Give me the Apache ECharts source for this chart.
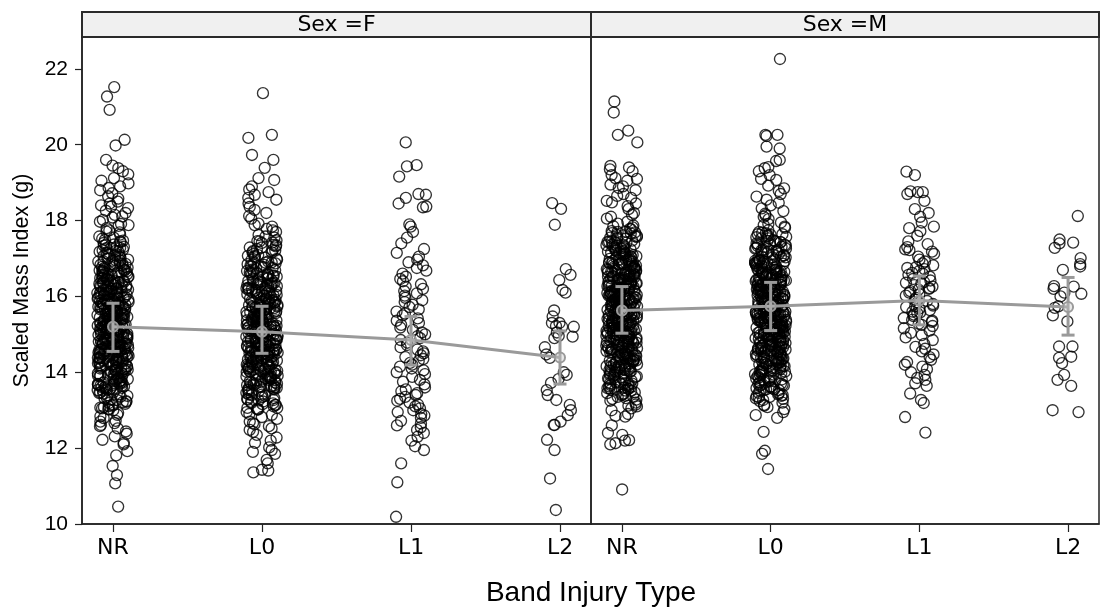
<!DOCTYPE html>
<html>
<head>
<meta charset="utf-8">
<script src="https://cdn.jsdelivr.net/npm/echarts@6/dist/echarts.min.js"></script>
<style>
  html, body { margin: 0; padding: 0; background: #fff; }
  #chart { width: 1100px; height: 607px; }
</style>
</head>
<body>
<div id="chart"></div>
<script>
// categories and tick labels
const categories = ['NR', 'L0', 'L1', 'L2'];
const yTicks = [10, 12, 14, 16, 18, 20, 22];
const panels = ['Sex =F', 'Sex =M'];

// scaled mass index per group (tails + spread)
const femaleNR = [
  10.46, 11.07, 11.29, 11.53, 11.81, 11.92,
  12.14, 12.1, 12.22, 12.31, 12.44, 12.38,
  12.52, 12.61, 12.58, 12.72, 12.84, 12.79, 12.93, 12.88, 12.66, 12.7,
  13.02, 13.11, 13.15, 13.22, 13.19, 13.31, 13.27, 13.42, 13.38, 13.05, 13.24, 13.36, 13.08, 13.45, 13.48, 13.0,
  13.52, 13.61, 13.64, 13.7, 13.73, 13.82, 13.79, 13.91, 13.94, 13.58, 13.67, 13.85, 13.97, 13.55, 13.63, 13.76, 13.88, 13.99, 13.6, 13.81, 13.72, 13.93,
  14.03, 14.08, 14.12, 14.15, 14.2, 14.24, 14.28, 14.33, 14.36, 14.41, 14.45, 14.48, 14.01, 14.06, 14.1, 14.18, 14.22, 14.27, 14.31, 14.38, 14.43, 14.47, 14.14, 14.26, 14.35, 14.4,
  14.5, 14.53, 14.56, 14.6, 14.62, 14.66, 14.69, 14.72, 14.75, 14.78, 14.82, 14.85, 14.88, 14.91, 14.95, 14.98, 14.52, 14.58, 14.64, 14.7, 14.77, 14.83, 14.9, 14.96, 14.55, 14.68, 14.8, 14.93, 14.61, 14.74,
  15.01, 15.04, 15.07, 15.1, 15.13, 15.16, 15.2, 15.23, 15.26, 15.3, 15.33, 15.36, 15.4, 15.43, 15.46, 15.49, 15.03, 15.09, 15.15, 15.21, 15.28, 15.34, 15.41, 15.47, 15.06, 15.18, 15.32, 15.44, 15.12, 15.25,
  15.51, 15.54, 15.58, 15.61, 15.64, 15.68, 15.71, 15.75, 15.78, 15.82, 15.85, 15.88, 15.92, 15.95, 15.98, 15.53, 15.6, 15.66, 15.73, 15.8, 15.87, 15.93, 15.56, 15.7, 15.84, 15.97, 15.63, 15.77,
  16.02, 16.05, 16.09, 16.13, 16.16, 16.2, 16.24, 16.27, 16.31, 16.35, 16.38, 16.42, 16.46, 16.49, 16.04, 16.11, 16.18, 16.26, 16.33, 16.4, 16.47, 16.07, 16.22, 16.37,
  16.52, 16.56, 16.6, 16.64, 16.68, 16.72, 16.76, 16.8, 16.84, 16.88, 16.92, 16.96, 16.99, 16.54, 16.62, 16.7, 16.78, 16.86, 16.94, 16.66,
  17.02, 17.06, 17.1, 17.15, 17.19, 17.23, 17.28, 17.32, 17.36, 17.41, 17.45, 17.49, 17.08, 17.2, 17.34, 17.27,
  17.52, 17.58, 17.63, 17.69, 17.74, 17.8, 17.86, 17.91, 17.97, 17.55, 17.71, 17.88,
  18.02, 18.08, 18.15, 18.2, 18.26, 18.33, 18.4, 18.45, 18.11, 18.37,
  18.5, 18.58, 18.64, 18.72, 18.8, 18.86, 18.9, 18.98,
  19.05, 19.12, 19.22, 19.3, 19.38, 19.45,
  19.6, 19.98, 20.13, 20.92, 21.27, 21.52
];
// the near-solid core of the same column
const femaleNRCore = [
  13.03, 13.47, 13.21, 13.12, 13.39, 13.29, 13.44, 13.07, 13.33, 13.17,
  13.54, 13.96, 13.68, 13.77, 13.59, 13.84, 13.62, 13.91, 13.71, 13.53, 13.87, 13.66, 13.78, 13.95, 13.57, 13.83, 13.69, 13.74, 13.9, 13.65,
  14.02, 14.44, 14.17, 14.29, 14.09, 14.37, 14.21, 14.48, 14.13, 14.32, 14.05, 14.25, 14.41, 14.19, 14.34, 14.07, 14.46, 14.23, 14.11, 14.39, 14.28, 14.16, 14.43, 14.04, 14.31,
  14.51, 14.97, 14.63, 14.79, 14.57, 14.88, 14.71, 14.54, 14.93, 14.67, 14.81, 14.59, 14.86, 14.73, 14.99, 14.62, 14.76, 14.53, 14.89, 14.69, 14.84, 14.57, 14.94, 14.66, 14.78, 14.61, 14.91, 14.72, 14.87, 14.64,
  15.02, 15.47, 15.14, 15.31, 15.08, 15.39, 15.22, 15.44, 15.11, 15.27, 15.05, 15.36, 15.19, 15.48, 15.13, 15.29, 15.04, 15.42, 15.24, 15.17, 15.33, 15.09, 15.45, 15.21, 15.38, 15.15, 15.26, 15.01, 15.41, 15.34,
  15.53, 15.94, 15.66, 15.81, 15.57, 15.88, 15.72, 15.51, 15.97, 15.63, 15.79, 15.55, 15.86, 15.69, 15.92, 15.61, 15.76, 15.52, 15.84, 15.67, 15.99, 15.58, 15.73, 15.89, 15.64, 15.82, 15.54, 15.77, 15.91, 15.68,
  16.03, 16.46, 16.18, 16.33, 16.08, 16.39, 16.22, 16.01, 16.44, 16.14, 16.29, 16.06, 16.36, 16.19, 16.48, 16.11, 16.27, 16.04, 16.41, 16.24, 16.13, 16.35, 16.09, 16.31, 16.17,
  16.53, 16.94, 16.68, 16.81, 16.57, 16.88, 16.72, 16.51, 16.97, 16.63, 16.79, 16.55, 16.86, 16.69, 16.92, 16.61, 16.76, 16.59, 16.84, 16.66,
  17.04, 17.43, 17.18, 17.31, 17.09, 17.37, 17.22, 17.47, 17.13, 17.27
];
const femaleL0 = [
  11.36, 11.41, 11.43, 11.6, 11.69, 11.85, 11.9, 11.95,
  12.02, 12.14, 12.2, 12.28, 12.35, 12.43, 12.48,
  12.52, 12.58, 12.63, 12.7, 12.77, 12.82, 12.88, 12.95, 12.66, 12.9,
  13.02, 13.06, 13.1, 13.14, 13.18, 13.22, 13.26, 13.3, 13.34, 13.38, 13.42, 13.46, 13.04, 13.16, 13.28, 13.4,
  13.51, 13.54, 13.57, 13.6, 13.63, 13.66, 13.7, 13.73, 13.76, 13.79, 13.82, 13.85, 13.88, 13.91, 13.94, 13.97, 13.53, 13.62, 13.71, 13.8, 13.89, 13.98,
  14.01, 14.04, 14.07, 14.1, 14.13, 14.16, 14.19, 14.22, 14.25, 14.28, 14.31, 14.34, 14.37, 14.4, 14.43, 14.46, 14.49, 14.03, 14.09, 14.15, 14.21, 14.27, 14.33, 14.39, 14.45, 14.12,
  14.51, 14.54, 14.57, 14.59, 14.63, 14.65, 14.68, 14.71, 14.74, 14.76, 14.79, 14.81, 14.84, 14.87, 14.89, 14.92, 14.94, 14.97, 14.99, 14.53, 14.6, 14.67, 14.73, 14.8, 14.86, 14.93, 14.56, 14.7,
  15.02, 15.05, 15.08, 15.11, 15.14, 15.17, 15.19, 15.22, 15.25, 15.27, 15.31, 15.34, 15.37, 15.39, 15.42, 15.45, 15.48, 15.03, 15.1, 15.16, 15.23, 15.29, 15.35, 15.41, 15.47, 15.06, 15.2, 15.33,
  15.52, 15.55, 15.59, 15.62, 15.65, 15.69, 15.72, 15.76, 15.79, 15.83, 15.86, 15.9, 15.94, 15.97, 15.54, 15.61, 15.67, 15.74, 15.81, 15.88, 15.95, 15.58, 15.71, 15.85,
  16.03, 16.07, 16.11, 16.15, 16.19, 16.23, 16.28, 16.32, 16.36, 16.41, 16.45, 16.49, 16.05, 16.13, 16.21, 16.3, 16.39, 16.47, 16.17, 16.34,
  16.53, 16.58, 16.63, 16.69, 16.74, 16.79, 16.85, 16.9, 16.96, 16.55, 16.66, 16.77, 16.88, 16.99, 16.61, 16.82,
  17.03, 17.09, 17.16, 17.22, 17.29, 17.35, 17.42, 17.48, 17.06, 17.19, 17.32, 17.45, 17.25,
  17.55, 17.62, 17.7, 17.78, 17.84, 17.92, 17.58, 17.74, 17.88,
  18.05, 18.12, 18.2, 18.28, 18.36, 18.45,
  18.55, 18.6, 18.68, 18.75, 18.82, 18.9,
  19.07, 19.12, 19.39,
  19.6, 19.73, 20.18, 20.26, 21.36
];
const femaleL0Core = [
  13.06, 13.41, 13.19, 13.27, 13.02, 13.36, 13.14, 13.48, 13.23, 13.32,
  13.58, 13.92, 13.64, 13.81, 13.52, 13.87, 13.7, 13.97, 13.61, 13.75, 13.55, 13.89, 13.67, 13.83, 13.59, 13.94, 13.72, 13.8, 13.63, 13.86,
  14.06, 14.42, 14.14, 14.31, 14.01, 14.38, 14.22, 14.47, 14.11, 14.27, 14.04, 14.35, 14.18, 14.45, 14.09, 14.29, 14.02, 14.4, 14.24, 14.15, 14.33, 14.07, 14.44, 14.2, 14.36,
  14.56, 14.92, 14.61, 14.78, 14.52, 14.86, 14.7, 14.98, 14.59, 14.81, 14.54, 14.89, 14.66, 14.75, 14.95, 14.58, 14.83, 14.63, 14.91, 14.69, 14.51, 14.87, 14.73, 14.6, 14.94, 14.67, 14.8, 14.55,
  15.04, 15.43, 15.16, 15.32, 15.01, 15.38, 15.21, 15.47, 15.09, 15.28, 15.06, 15.35, 15.18, 15.44, 15.12, 15.26, 15.03, 15.4, 15.23, 15.14, 15.31, 15.07, 15.46, 15.19, 15.37, 15.11, 15.29, 15.49,
  15.56, 15.93, 15.64, 15.78, 15.51, 15.86, 15.69, 15.98, 15.59, 15.74, 15.53, 15.89, 15.66, 15.82, 15.57, 15.95, 15.71, 15.62, 15.84, 15.54, 15.91, 15.68, 15.77, 15.6, 15.87,
  16.06, 16.42, 16.16, 16.31, 16.02, 16.37, 16.21, 16.47, 16.11, 16.27, 16.04, 16.34, 16.19, 16.44, 16.09, 16.25, 16.01, 16.39, 16.14, 16.29,
  16.56, 16.92, 16.64, 16.79, 16.52, 16.87, 16.71, 16.97, 16.61, 16.75, 16.54, 16.89, 16.67, 16.83, 16.59,
  17.07, 17.41, 17.16, 17.29, 17.02, 17.36, 17.21, 17.46, 17.12
];
const femaleL1 = [
  10.19, 11.1, 11.6, 11.95, 12.05, 12.2, 12.3, 12.4, 12.48, 12.55, 12.6, 12.65, 12.72, 12.8, 12.86, 12.9, 12.95,
  13.0, 13.05, 13.1, 13.15, 13.2, 13.25, 13.3, 13.35, 13.4, 13.45, 13.5, 13.55, 13.6, 13.68, 13.75, 13.8, 13.88, 13.95,
  14.0, 14.05, 14.1, 14.15, 14.2, 14.25, 14.3, 14.35, 14.4, 14.45, 14.5, 14.55, 14.6, 14.66, 14.72, 14.78, 14.85, 14.9, 14.95,
  15.0, 15.05, 15.12, 15.18, 15.25, 15.3, 15.36, 15.42, 15.5, 15.55, 15.6, 15.66, 15.72, 15.78, 15.85, 15.9, 15.96,
  16.02, 16.08, 16.14, 16.2, 16.26, 16.32, 16.4, 16.46, 16.52, 16.6, 16.68, 16.75, 16.82, 16.9, 16.97,
  17.05, 17.15, 17.25, 17.4, 17.55, 17.7, 17.84, 17.9, 18.35, 18.37, 18.45, 18.6, 18.68, 18.7,
  19.16, 19.43, 19.46, 20.06
];
const femaleL2 = [
  10.37, 11.2, 11.95, 12.22, 12.61, 12.61, 12.7, 12.87, 13.0, 13.14, 13.27, 13.4, 13.53, 13.72, 13.82, 13.93, 14.0,
  14.38, 14.47, 14.66, 14.9, 14.94, 14.96, 15.05, 15.2, 15.2, 15.22, 15.3, 15.3, 15.47, 15.63,
  16.1, 16.17, 16.43, 16.57, 16.72, 17.89, 18.31, 18.46
];
const maleNR = [
  10.91,
  12.1, 12.13, 12.2, 12.21, 12.35, 12.4, 12.6, 12.83, 12.85, 12.9,
  13.0, 13.05, 13.1, 13.15, 13.2, 13.25, 13.3, 13.35, 13.4, 13.45, 13.12, 13.28,
  13.51, 13.54, 13.58, 13.61, 13.64, 13.68, 13.71, 13.74, 13.78, 13.81, 13.84, 13.88, 13.91, 13.94, 13.97, 13.56, 13.7, 13.86,
  14.01, 14.03, 14.06, 14.09, 14.12, 14.14, 14.17, 14.2, 14.23, 14.26, 14.29, 14.31, 14.34, 14.37, 14.4, 14.43, 14.46, 14.48, 14.05, 14.15, 14.25, 14.35, 14.44, 14.19,
  14.5, 14.52, 14.55, 14.58, 14.6, 14.63, 14.65, 14.68, 14.71, 14.73, 14.76, 14.78, 14.81, 14.83, 14.86, 14.89, 14.91, 14.94, 14.96, 14.99, 14.54, 14.62, 14.7, 14.79, 14.87, 14.95, 14.66, 14.84,
  15.01, 15.03, 15.06, 15.08, 15.11, 15.13, 15.16, 15.18, 15.21, 15.23, 15.26, 15.28, 15.31, 15.33, 15.36, 15.38, 15.41, 15.43, 15.46, 15.48, 15.02, 15.09, 15.15, 15.22, 15.29, 15.35, 15.42, 15.49, 15.05, 15.19, 15.32, 15.45,
  15.51, 15.53, 15.56, 15.58, 15.61, 15.63, 15.66, 15.68, 15.71, 15.73, 15.76, 15.78, 15.81, 15.83, 15.86, 15.88, 15.91, 15.93, 15.96, 15.98, 15.52, 15.59, 15.65, 15.72, 15.79, 15.85, 15.92, 15.99, 15.55, 15.69, 15.82, 15.95,
  16.01, 16.04, 16.06, 16.09, 16.11, 16.14, 16.17, 16.19, 16.22, 16.24, 16.27, 16.3, 16.32, 16.35, 16.38, 16.4, 16.43, 16.46, 16.48, 16.02, 16.08, 16.15, 16.21, 16.28, 16.34, 16.41, 16.47, 16.12, 16.25, 16.37,
  16.51, 16.54, 16.57, 16.6, 16.63, 16.66, 16.69, 16.72, 16.75, 16.78, 16.81, 16.84, 16.87, 16.9, 16.93, 16.96, 16.99, 16.53, 16.61, 16.7, 16.79, 16.88, 16.97, 16.65, 16.74, 16.85,
  17.02, 17.06, 17.1, 17.14, 17.18, 17.22, 17.26, 17.3, 17.34, 17.38, 17.42, 17.46, 17.04, 17.12, 17.2, 17.28, 17.36, 17.44, 17.16, 17.32,
  17.52, 17.57, 17.62, 17.67, 17.72, 17.77, 17.82, 17.87, 17.92, 17.97, 17.55, 17.7, 17.85, 17.6,
  18.05, 18.1, 18.2, 18.3, 18.38, 18.45, 18.15, 18.48,
  18.52, 18.6, 18.7, 18.8, 18.86, 18.9, 18.95, 18.65,
  19.05, 19.1, 19.12, 19.2, 19.3, 19.35, 19.4, 19.44,
  20.06, 20.26, 20.37, 20.85, 21.14
];
const maleNRCore = [
  13.32, 13.47, 13.38, 13.44, 13.35, 13.41,
  13.56, 13.93, 13.63, 13.78, 13.52, 13.86, 13.69, 13.97, 13.6, 13.74, 13.54, 13.89, 13.66, 13.82, 13.58, 13.71,
  14.07, 14.43, 14.16, 14.32, 14.02, 14.38, 14.21, 14.47, 14.12, 14.28, 14.05, 14.35, 14.18, 14.45, 14.09, 14.26, 14.03, 14.41, 14.23, 14.14, 14.31, 14.49,
  14.54, 14.93, 14.62, 14.79, 14.51, 14.87, 14.71, 14.97, 14.58, 14.82, 14.56, 14.89, 14.67, 14.76, 14.95, 14.59, 14.84, 14.64, 14.91, 14.69, 14.52, 14.86, 14.73, 14.61, 14.99, 14.77,
  15.03, 15.44, 15.17, 15.33, 15.02, 15.38, 15.22, 15.48, 15.08, 15.27, 15.06, 15.36, 15.19, 15.45, 15.12, 15.29, 15.04, 15.41, 15.24, 15.14, 15.32, 15.07, 15.47, 15.18, 15.37, 15.11, 15.26, 15.49, 15.01, 15.34,
  15.54, 15.92, 15.63, 15.79, 15.52, 15.87, 15.68, 15.96, 15.58, 15.74, 15.55, 15.88, 15.66, 15.83, 15.57, 15.94, 15.71, 15.61, 15.85, 15.53, 15.9, 15.67, 15.77, 15.59, 15.86, 15.64, 15.98, 15.72, 15.81, 15.56,
  16.04, 16.43, 16.17, 16.32, 16.01, 16.38, 16.22, 16.48, 16.12, 16.27, 16.06, 16.35, 16.19, 16.45, 16.09, 16.26, 16.02, 16.41, 16.24, 16.14, 16.31, 16.07, 16.46, 16.2, 16.36, 16.11, 16.29, 16.49,
  16.55, 16.93, 16.63, 16.78, 16.52, 16.87, 16.7, 16.97, 16.59, 16.74, 16.54, 16.89, 16.66, 16.83, 16.58, 16.95, 16.72, 16.62, 16.85, 16.53, 16.91, 16.68, 16.8, 16.57,
  17.06, 17.42, 17.15, 17.31, 17.02, 17.37, 17.2, 17.47, 17.11, 17.27, 17.04, 17.35, 17.18, 17.44, 17.09, 17.24,
  17.52, 17.71, 17.58, 17.66, 17.55, 17.78, 17.61, 17.69
];
const maleL0 = [
  11.45, 11.85, 11.93, 12.43, 12.8, 12.87, 12.95,
  13.03, 13.08, 13.14, 13.2, 13.24, 13.27, 13.3, 13.35, 13.4, 13.45, 13.12, 13.38,
  13.51, 13.55, 13.58, 13.62, 13.65, 13.69, 13.72, 13.76, 13.79, 13.83, 13.86, 13.9, 13.93, 13.97, 13.53, 13.67, 13.81, 13.95,
  14.02, 14.05, 14.08, 14.11, 14.13, 14.16, 14.19, 14.22, 14.25, 14.28, 14.3, 14.33, 14.36, 14.39, 14.42, 14.45, 14.47, 14.03, 14.1, 14.18, 14.27, 14.35, 14.44, 14.21,
  14.51, 14.53, 14.56, 14.59, 14.61, 14.64, 14.67, 14.69, 14.72, 14.75, 14.77, 14.8, 14.83, 14.85, 14.88, 14.91, 14.93, 14.96, 14.98, 14.52, 14.58, 14.66, 14.74, 14.82, 14.9, 14.97, 14.62, 14.79,
  15.01, 15.04, 15.07, 15.09, 15.12, 15.15, 15.17, 15.2, 15.23, 15.25, 15.28, 15.31, 15.33, 15.36, 15.39, 15.41, 15.44, 15.47, 15.49, 15.02, 15.1, 15.18, 15.26, 15.34, 15.42, 15.48, 15.06, 15.21, 15.37, 15.45,
  15.5, 15.53, 15.56, 15.58, 15.61, 15.64, 15.66, 15.69, 15.72, 15.74, 15.77, 15.8, 15.82, 15.85, 15.88, 15.9, 15.93, 15.96, 15.98, 15.52, 15.6, 15.68, 15.76, 15.84, 15.92, 15.99, 15.57, 15.71, 15.86, 15.95,
  16.01, 16.04, 16.07, 16.1, 16.13, 16.16, 16.19, 16.22, 16.25, 16.28, 16.31, 16.34, 16.37, 16.4, 16.43, 16.46, 16.49, 16.03, 16.11, 16.2, 16.29, 16.38, 16.47, 16.15, 16.24, 16.33, 16.42, 16.08,
  16.52, 16.55, 16.59, 16.62, 16.66, 16.69, 16.73, 16.76, 16.8, 16.83, 16.87, 16.9, 16.94, 16.97, 16.54, 16.64, 16.74, 16.85, 16.95, 16.6, 16.78, 16.92, 16.68, 16.88,
  17.03, 17.08, 17.13, 17.18, 17.23, 17.28, 17.33, 17.38, 17.43, 17.48, 17.05, 17.16, 17.26, 17.36, 17.46, 17.2, 17.31, 17.4,
  17.53, 17.6, 17.67, 17.74, 17.81, 17.88, 17.95, 17.57, 17.7, 17.84, 17.64, 17.91,
  18.04, 18.1, 18.18, 18.25, 18.32, 18.4, 18.14, 18.47,
  18.55, 18.63, 18.7, 18.78, 18.85, 18.92,
  19.07, 19.1, 19.2, 19.3, 19.38, 19.41,
  19.57, 19.6, 19.9, 19.95, 20.23, 20.26, 20.26,
  22.26
];
const maleL0Core = [
  13.31, 13.46, 13.37, 13.42, 13.34,
  13.58, 13.94, 13.65, 13.8, 13.53, 13.87, 13.7, 13.98, 13.61, 13.76, 13.55, 13.9, 13.67, 13.84, 13.73,
  14.05, 14.41, 14.15, 14.33, 14.01, 14.37, 14.22, 14.48, 14.1, 14.27, 14.04, 14.34, 14.17, 14.44, 14.08, 14.25, 14.02, 14.39, 14.21, 14.3,
  14.53, 14.92, 14.63, 14.78, 14.51, 14.86, 14.7, 14.96, 14.57, 14.81, 14.55, 14.88, 14.66, 14.75, 14.94, 14.6, 14.83, 14.65, 14.9, 14.68, 14.52, 14.85, 14.72, 14.62, 14.98, 14.77,
  15.05, 15.43, 15.16, 15.32, 15.01, 15.39, 15.23, 15.47, 15.09, 15.28, 15.06, 15.35, 15.2, 15.44, 15.13, 15.27, 15.03, 15.41, 15.25, 15.15, 15.33, 15.08, 15.46, 15.19, 15.38, 15.12, 15.3, 15.49,
  15.53, 15.93, 15.62, 15.78, 15.51, 15.86, 15.69, 15.97, 15.57, 15.75, 15.54, 15.89, 15.65, 15.82, 15.58, 15.95, 15.72, 15.6, 15.84, 15.52, 15.91, 15.68, 15.77, 15.59, 15.87, 15.63, 15.99, 15.71, 15.8, 15.56,
  16.05, 16.42, 16.16, 16.33, 16.02, 16.37, 16.23, 16.47, 16.11, 16.28, 16.07, 16.36, 16.18, 16.44, 16.09, 16.25, 16.03, 16.4, 16.21, 16.13, 16.31, 16.06, 16.45, 16.19, 16.35, 16.12, 16.29, 16.48,
  16.56, 16.94, 16.62, 16.79, 16.51, 16.88, 16.71, 16.96, 16.58, 16.73, 16.55, 16.9, 16.65, 16.84, 16.59, 16.93, 16.7, 16.63, 16.86, 16.54, 16.92, 16.67, 16.81, 16.57,
  17.05, 17.43, 17.14, 17.3, 17.01, 17.38, 17.21, 17.46, 17.1, 17.26, 17.03, 17.34, 17.17, 17.45, 17.08, 17.23,
  17.53, 17.68, 17.59, 17.64, 17.56, 17.62
];
const maleL1 = [
  12.41, 12.82, 13.19, 13.27, 13.44, 13.64, 13.71, 13.8, 13.85, 13.93,
  14.0, 14.08, 14.15, 14.2, 14.27, 14.33, 14.4, 14.47, 14.55, 14.62, 14.67, 14.75, 14.85, 14.92,
  14.98, 15.04, 15.1, 15.16, 15.22, 15.28, 15.33, 15.38, 15.43, 15.48, 15.25, 15.36,
  15.52, 15.56, 15.6, 15.64, 15.68, 15.72, 15.76, 15.8, 15.84, 15.88, 15.92, 15.96, 15.58, 15.74,
  16.02, 16.06, 16.1, 16.14, 16.18, 16.22, 16.26, 16.3, 16.34, 16.38, 16.42, 16.46, 16.2, 16.36,
  16.52, 16.57, 16.62, 16.67, 16.72, 16.77, 16.82, 16.87, 16.92, 16.97, 16.6, 16.75,
  17.05, 17.12, 17.18, 17.24, 17.3, 17.38, 17.45, 17.22,
  17.6, 17.72, 17.8, 17.84, 17.95,
  18.1, 18.2, 18.3, 18.52, 18.7, 18.75, 18.75, 18.77,
  19.2, 19.29
];
const maleL2 = [
  12.95, 13.0, 13.64, 13.8, 13.93, 14.24, 14.38, 14.41, 14.68, 14.68, 15.34, 15.5, 15.7, 15.74,
  16.0, 16.07, 16.1, 16.2, 16.26, 16.27, 16.7, 16.79, 16.85, 17.01, 17.28, 17.4, 17.42, 17.5, 18.12
];

// group means with their error bar ends
const femaleMean = [15.2, 15.07, 14.85, 14.39];
const femaleLow = [14.55, 14.5, 14.19, 13.69];
const femaleHigh = [15.82, 15.74, 15.47, 15.09];
const maleMean = [15.63, 15.74, 15.89, 15.72];
const maleLow = [15.03, 15.1, 15.25, 14.98];
const maleHigh = [16.26, 16.37, 16.54, 16.5];

const GREY = '#9a9a9a';

// sideways offset of each point around its category (fixed hash, like a jitter)
function jitter(groups, seed) {
  let out = [];
  groups.forEach((vals, c) => {
    vals.forEach((v, i) => {
      let h = Math.sin((i + 1) * 12.9898 + (c + seed) * 78.233) * 43758.5453;
      let f = h - Math.floor(h);
      out.push([c + (f - 0.5) * 0.21, v]);
    });
  });
  return out;
}

const chart = echarts.init(document.getElementById('chart'));

function xAxisOf(idx) {
  return {
    gridIndex: idx,
    type: 'value',
    min: -0.208,
    max: 3.208,
    splitLine: { show: false },
    axisLine: { show: true, onZero: false, lineStyle: { color: '#222', width: 1.5 } },
    axisTick: { show: true, customValues: [0, 1, 2, 3], length: 8, lineStyle: { color: '#222', width: 1.2 } },
    axisLabel: {
      customValues: [0, 1, 2, 3],
      formatter: v => categories[Math.round(v)],
      fontFamily: 'DejaVu Sans',
      fontSize: 22,
      color: '#000',
      margin: 13
    }
  };
}

function yAxisOf(idx) {
  let first = idx === 0;
  return {
    gridIndex: idx,
    type: 'value',
    min: 10,
    max: 22.84,
    splitLine: { show: false },
    axisLine: { show: first, onZero: false, lineStyle: { color: '#222', width: 1.5 } },
    axisTick: { show: first, customValues: yTicks, length: 7, lineStyle: { color: '#222', width: 1.2 } },
    axisLabel: {
      show: first,
      customValues: yTicks,
      fontFamily: 'Liberation Sans',
      fontSize: 21,
      color: '#000',
      margin: 14
    },
    name: first ? 'Scaled Mass Index (g)' : '',
    nameLocation: 'middle',
    nameGap: 49,
    nameTextStyle: { fontFamily: 'Liberation Sans', fontSize: 21.5, color: '#000' }
  };
}

function errorBars(idx, low, high) {
  return {
    type: 'custom',
    xAxisIndex: idx,
    yAxisIndex: idx,
    z: 5,
    data: low.map((l, i) => [i, l, high[i]]),
    renderItem: function(params, api) {
      let x = api.value(0);
      let a = api.coord([x, api.value(1)]);
      let b = api.coord([x, api.value(2)]);
      let w = 6.5;
      let st = { stroke: GREY, lineWidth: 3 };
      return {
        type: 'group',
        children: [
          { type: 'line', shape: { x1: a[0], y1: a[1], x2: b[0], y2: b[1] }, style: st },
          { type: 'line', shape: { x1: a[0] - w, y1: a[1], x2: a[0] + w, y2: a[1] }, style: st },
          { type: 'line', shape: { x1: b[0] - w, y1: b[1], x2: b[0] + w, y2: b[1] }, style: st }
        ]
      };
    }
  };
}

function meanLine(idx, means) {
  return {
    type: 'line',
    xAxisIndex: idx,
    yAxisIndex: idx,
    z: 6,
    data: means.map((m, i) => [i, m]),
    symbol: 'circle',
    symbolSize: 10,
    lineStyle: { color: GREY, width: 3 },
    itemStyle: { color: 'rgba(200,200,200,0.4)', borderColor: GREY, borderWidth: 2 }
  };
}

function points(idx, data) {
  return {
    type: 'scatter',
    xAxisIndex: idx,
    yAxisIndex: idx,
    z: 2,
    data: data,
    symbol: 'circle',
    symbolSize: 11,
    itemStyle: { color: 'rgba(0,0,0,0)', borderColor: '#000', borderWidth: 1.35 }
  };
}

function header(x, w, label) {
  return {
    type: 'group',
    children: [
      { type: 'rect', shape: { x: x, y: 12, width: w, height: 25 }, style: { fill: '#f0f0f0', stroke: '#2a2a2a', lineWidth: 2 } },
      { type: 'text', x: x + w / 2, y: 25, style: { text: label, fontFamily: 'DejaVu Sans', fontSize: 22, fill: '#000', align: 'center', verticalAlign: 'middle' } }
    ]
  };
}

chart.setOption({
  animation: false,
  backgroundColor: '#fff',
  grid: [
    { left: 82, top: 37, width: 509, height: 487, show: true, borderColor: '#222', borderWidth: 1.5, backgroundColor: 'transparent' },
    { left: 591, top: 37, width: 508, height: 487, show: true, borderColor: '#222', borderWidth: 1.5, backgroundColor: 'transparent' }
  ],
  xAxis: [xAxisOf(0), xAxisOf(1)],
  yAxis: [yAxisOf(0), yAxisOf(1)],
  graphic: [
    header(82, 509, panels[0]),
    header(591, 508, panels[1]),
    { type: 'text', x: 591, y: 593, style: { text: 'Band Injury Type', fontFamily: 'Liberation Sans', fontSize: 28, fill: '#000', align: 'center', verticalAlign: 'middle' } }
  ],
  series: [
    points(0, jitter([femaleNR.concat(femaleNRCore), femaleL0.concat(femaleL0Core), femaleL1, femaleL2], 0.11)),
    points(1, jitter([maleNR.concat(maleNRCore), maleL0.concat(maleL0Core), maleL1, maleL2], 0.53)),
    errorBars(0, femaleLow, femaleHigh),
    errorBars(1, maleLow, maleHigh),
    meanLine(0, femaleMean),
    meanLine(1, maleMean)
  ]
});
</script>
</body>
</html>
